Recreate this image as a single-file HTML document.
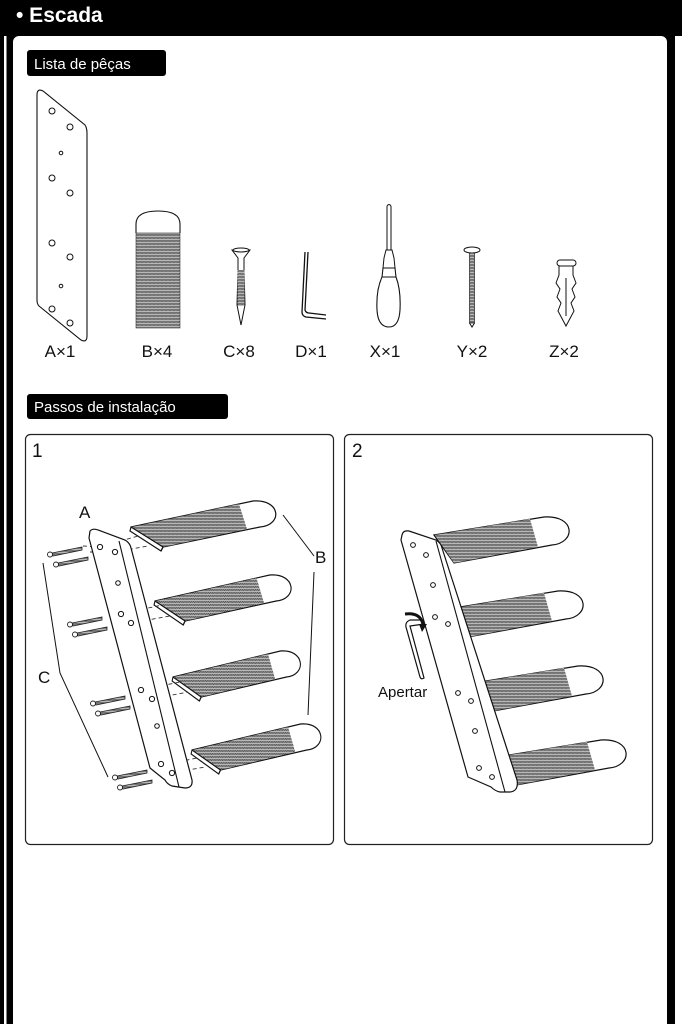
<!DOCTYPE html>
<html><head><meta charset="utf-8"><style>
html,body{margin:0;padding:0;background:#000;width:682px;height:1024px;overflow:hidden;font-family:"Liberation Sans",sans-serif}
</style></head><body>
<svg width="682" height="1024" viewBox="0 0 682 1024" xmlns="http://www.w3.org/2000/svg" font-family="Liberation Sans, sans-serif">
<defs>
<pattern id="tx" width="4" height="3" patternUnits="userSpaceOnUse">
<rect width="4" height="3" fill="#b8b8b8"/>
<path d="M0,1.5 L1,0.5 L2,1.5 L3,0.5 L4,1.5" stroke="#444" stroke-width="0.8" fill="none"/>
</pattern>
<g id="t1">
<path d="M0,0 L122,-26 C150,-28 152,-2 129,0 L32,20 L30,24 L-1,4 Z" fill="#fff" stroke="#111" stroke-width="1.2"/>
<path d="M1,0 L108,-23 L116,2 L32,20 Z" fill="url(#tx)"/>
<path d="M0,0 L32,20 L30,24" fill="none" stroke="#111" stroke-width="1.2"/>
</g>
<g id="t2">
<path d="M0,0 L110,-18 C142,-20 142,8 118,10 L20,28 Z" fill="#fff" stroke="#111" stroke-width="1.2"/>
<path d="M1,0 L96,-16 L104,12 L20,28 Z" fill="url(#tx)"/>
</g>
<g id="sc">
<path d="M0,0 L30,-6 L30,-3 L1,3 Z" fill="url(#tx)" stroke="#222" stroke-width="0.8"/>
<circle cx="-2" cy="1.5" r="2.5" fill="#fff" stroke="#222" stroke-width="0.9"/>
</g>
</defs>
<rect x="0" y="0" width="682" height="1024" fill="#000"/>
<rect x="4" y="36" width="2.5" height="988" fill="#fff"/>
<rect x="675" y="36" width="7" height="988" fill="#fff"/>
<rect x="13" y="36" width="654" height="1000" rx="6" fill="#fff"/>
<text x="16" y="22" fill="#fff" font-size="21" font-weight="bold">• Escada</text>

<rect x="27" y="50" width="139" height="26" rx="3" fill="#000"/>
<text x="34" y="69" fill="#fff" font-size="15">Lista de pêças</text>
<rect x="27" y="394" width="201" height="25" rx="3" fill="#000"/>
<text x="34" y="412" fill="#fff" font-size="15">Passos de instalação</text>

<!-- A plate -->
<path d="M37,95 Q37,88 43,91 L85,125 Q87,128 87,133 L87,336 Q87,343 81,340 L39,306 Q37,304 37,300 Z" fill="#fff" stroke="#111" stroke-width="1.1"/>
<g fill="#fff" stroke="#111" stroke-width="1">
<circle cx="52" cy="111" r="3"/><circle cx="70" cy="127" r="3"/><circle cx="61" cy="153" r="1.8"/>
<circle cx="52" cy="178" r="3"/><circle cx="70" cy="193" r="3"/><circle cx="52" cy="243" r="3"/>
<circle cx="70" cy="257" r="3"/><circle cx="61" cy="286" r="1.8"/><circle cx="52" cy="309" r="3"/><circle cx="70" cy="323" r="3"/>
</g>
<!-- B -->
<path d="M136,233 L136,224 Q136,211 158,211 Q180,211 180,224 L180,233" fill="#fff" stroke="#111" stroke-width="1.1"/>
<rect x="136" y="233" width="44" height="95" fill="url(#tx)" stroke="#333" stroke-width="0.6"/>
<!-- C screw -->
<path d="M232,250 L250,250 L244,258 L244,270 L245,305 L241,325 L237,305 L238,270 L238,258 Z" fill="#fff" stroke="#111" stroke-width="1"/>
<rect x="237.5" y="270" width="7" height="36" fill="url(#tx)"/>
<ellipse cx="241" cy="250" rx="8" ry="2" fill="#fff" stroke="#111" stroke-width="1"/>
<!-- D key -->
<path d="M305,252 L302,312 Q302,316 306,317 L326,319 M308,252 L305,310 Q306,313 309,313 L326,315" fill="none" stroke="#111" stroke-width="1.3"/>
<!-- X screwdriver -->
<path d="M387,206 L387,250 M391,206 L391,250 M387,206 Q389,203 391,206" fill="none" stroke="#111" stroke-width="1"/>
<path d="M386,250 L392,250 L394,258 L395,268 L383,268 L384,258 Z" fill="#fff" stroke="#111" stroke-width="1"/>
<path d="M383,268 L395,268 L396,277 Q401,290 400,310 Q399,327 389,327 Q378,327 377,310 Q376,290 382,277 Z" fill="#fff" stroke="#111" stroke-width="1.1"/>
<line x1="382" y1="277" x2="396" y2="277" stroke="#111"/>
<!-- Y -->
<ellipse cx="472" cy="250" rx="8" ry="3" fill="#fff" stroke="#111" stroke-width="1"/>
<rect x="469.5" y="253" width="5" height="70" fill="url(#tx)" stroke="#222" stroke-width="0.7"/>
<path d="M469.5,323 L472,327 L474.5,323" fill="none" stroke="#111"/>
<!-- Z -->
<rect x="557" y="260" width="19" height="6" rx="3" fill="#fff" stroke="#111" stroke-width="1"/>
<path d="M559,266 L559,275 L556,283 L560,289 L557,297 L561,303 L558,311 L566,326 L574,311 L571,303 L575,297 L572,289 L576,283 L573,275 L573,266 Z" fill="#fff" stroke="#111" stroke-width="1"/>
<line x1="566" y1="278" x2="566" y2="316" stroke="#111"/>

<g font-size="17" fill="#111" text-anchor="middle">
<text x="60" y="357">A×1</text><text x="157" y="357">B×4</text><text x="239" y="357">C×8</text>
<text x="311" y="357">D×1</text><text x="385" y="357">X×1</text><text x="472" y="357">Y×2</text><text x="564" y="357">Z×2</text>
</g>

<!-- step boxes -->
<rect x="25.5" y="434.5" width="308" height="410" rx="5" fill="#fff" stroke="#222" stroke-width="1.2"/>
<rect x="344.5" y="434.5" width="308" height="410" rx="5" fill="#fff" stroke="#222" stroke-width="1.2"/>
<text x="32" y="457" font-size="19" fill="#111">1</text>
<text x="352" y="457" font-size="19" fill="#111">2</text>

<!-- step 1 -->
<use href="#t1" x="131" y="527"/>
<use href="#t1" transform="translate(155,601) scale(0.94,1)"/>
<use href="#t1" transform="translate(173,677) scale(0.88,1)"/>
<use href="#t1" transform="translate(192,750) scale(0.89,1)"/>
<g stroke="#333" stroke-width="0.9" stroke-dasharray="4,3" fill="none">
<path d="M100,547 L138,536 M115,552 L148,546"/>
<path d="M121,614 L162,605 M131,623 L170,616"/>
<path d="M141,690 L180,682 M152,699 L188,692"/>
<path d="M158,766 L197,758 M172,773 L205,767"/>
<path d="M83,546 L100,547 M90,552 L115,552"/>
</g>
<path d="M90,531 Q93,528 98,530 L125,540 Q130,543 131,548 L192,780 Q193,788 185,788 L172,786 Q167,784 165,780 L150,768 L89,538 Z" fill="#fff" stroke="#111" stroke-width="1.2"/>
<path d="M119,541 L179,787" stroke="#111" stroke-width="1.1"/>
<g fill="#fff" stroke="#111" stroke-width="1">
<circle cx="100" cy="547" r="2.6"/><circle cx="115" cy="552" r="2.6"/><circle cx="118" cy="583" r="2.3"/>
<circle cx="121" cy="614" r="2.6"/><circle cx="131" cy="623" r="2.6"/><circle cx="141" cy="690" r="2.6"/>
<circle cx="152" cy="699" r="2.6"/><circle cx="157" cy="726" r="2.3"/><circle cx="161" cy="764" r="2.6"/><circle cx="172" cy="773" r="2.6"/>
</g>
<use href="#sc" x="52" y="553"/><use href="#sc" x="58" y="563"/>
<use href="#sc" x="72" y="623"/><use href="#sc" x="77" y="633"/>
<use href="#sc" x="95" y="702"/><use href="#sc" x="100" y="712"/>
<use href="#sc" x="117" y="776"/><use href="#sc" x="122" y="786"/>
<g stroke="#111" stroke-width="1" fill="none">
<path d="M43,563 L60,673 L108,777"/>
<path d="M283,515 L314,556"/>
<path d="M314,572 L308,715"/>
</g>
<g font-size="17" fill="#111">
<text x="79" y="518">A</text><text x="315" y="563">B</text><text x="38" y="683">C</text>
</g>

<!-- step 2 -->
<use href="#t2" x="434" y="535"/>
<use href="#t2" x="448" y="609"/>
<use href="#t2" x="468" y="684"/>
<use href="#t2" x="491" y="758"/>
<path d="M402,535 Q403,530 409,531 L436,540 Q441,543 442,548 L517,780 Q519,791 510,792 L500,792 Q495,791 491,787 L468,777 L401,540 Z" fill="#fff" stroke="#111" stroke-width="1.2"/>
<path d="M436,541 L505,792" stroke="#111" stroke-width="1.1"/>
<g fill="#fff" stroke="#111" stroke-width="1">
<circle cx="413" cy="545" r="2.4"/><circle cx="426" cy="555" r="2.4"/><circle cx="433" cy="585" r="2.4"/>
<circle cx="435" cy="617" r="2.4"/><circle cx="448" cy="624" r="2.4"/><circle cx="458" cy="693" r="2.4"/>
<circle cx="471" cy="701" r="2.4"/><circle cx="475" cy="731" r="2.4"/><circle cx="479" cy="768" r="2.4"/><circle cx="492" cy="777" r="2.4"/>
</g>
<path d="M422,620 L410,620 Q405,622 406,627 L420,677 Q421,680 424,678 L410,626 L424,624" fill="none" stroke="#111" stroke-width="1.2"/>
<path d="M405,614 Q420,612 423,624" fill="none" stroke="#111" stroke-width="3"/>
<path d="M419,624 L427,624 L422,632 Z" fill="#111"/>
<text x="378" y="697" font-size="15" fill="#111">Apertar</text>
</svg>
</body></html>
